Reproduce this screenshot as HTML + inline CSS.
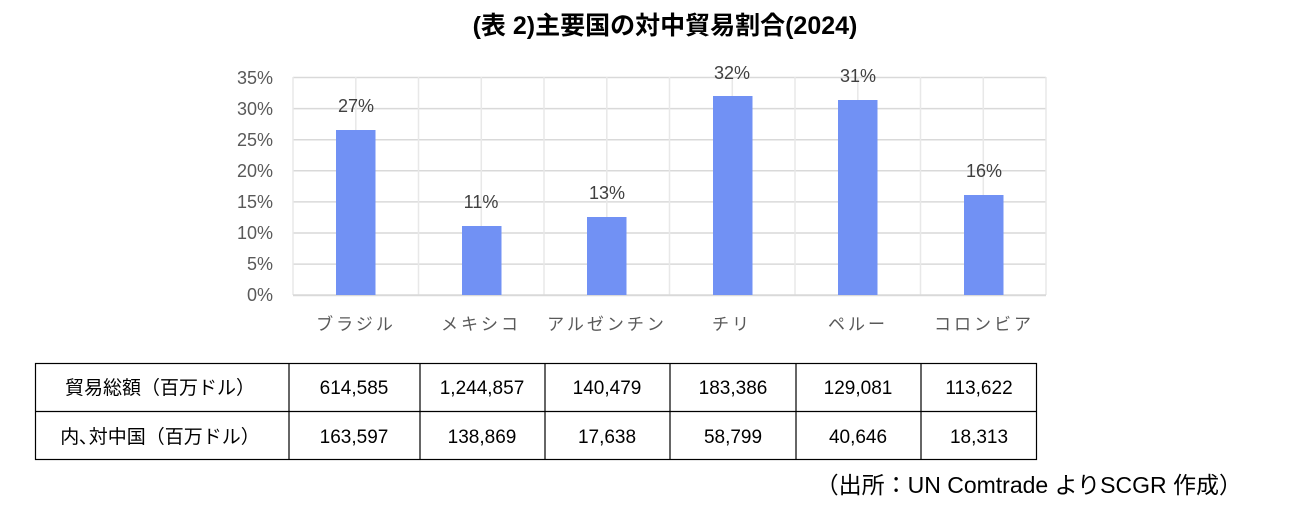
<!DOCTYPE html>
<html><head><meta charset="utf-8"><style>
body{margin:0;width:1295px;height:517px;background:#fff;overflow:hidden;font-family:"Liberation Sans","Noto Sans CJK JP",sans-serif;}
</style></head><body>
<svg width="1295" height="517" xmlns="http://www.w3.org/2000/svg" font-family="Liberation Sans, Noto Sans CJK JP, sans-serif">
<text x="665" y="34" text-anchor="middle" font-size="25" font-weight="bold" fill="#000">(表 2)主要国の対中貿易割合(2024)</text>
<g stroke="#d9d9d9" stroke-width="1.5">
<line x1="293" y1="77.5" x2="1046" y2="77.5"/><line x1="293" y1="108.6" x2="1046" y2="108.6"/><line x1="293" y1="139.7" x2="1046" y2="139.7"/><line x1="293" y1="170.8" x2="1046" y2="170.8"/><line x1="293" y1="201.9" x2="1046" y2="201.9"/><line x1="293" y1="233" x2="1046" y2="233"/><line x1="293" y1="264.1" x2="1046" y2="264.1"/>
</g>
<g stroke="#e8e8e8" stroke-width="1.5">
<line x1="293" y1="77" x2="293" y2="295"/><line x1="355.8" y1="77" x2="355.8" y2="295"/><line x1="418.5" y1="77" x2="418.5" y2="295"/><line x1="481.3" y1="77" x2="481.3" y2="295"/><line x1="544" y1="77" x2="544" y2="295"/><line x1="606.8" y1="77" x2="606.8" y2="295"/><line x1="669.5" y1="77" x2="669.5" y2="295"/><line x1="732.3" y1="77" x2="732.3" y2="295"/><line x1="795" y1="77" x2="795" y2="295"/><line x1="857.8" y1="77" x2="857.8" y2="295"/><line x1="920.5" y1="77" x2="920.5" y2="295"/><line x1="983.3" y1="77" x2="983.3" y2="295"/><line x1="1046" y1="77" x2="1046" y2="295"/>
</g>
<line x1="293" y1="295.2" x2="1046" y2="295.2" stroke="#d9d9d9" stroke-width="2"/>
<g fill="#7191f4">
<rect x="336" y="130" width="39.5" height="165"/>
<rect x="462" y="226" width="39.5" height="69"/>
<rect x="587" y="217" width="39.5" height="78"/>
<rect x="713" y="96" width="39.5" height="199"/>
<rect x="838" y="100" width="39.5" height="195"/>
<rect x="964" y="195" width="39.5" height="100"/>
</g>
<g font-size="18" fill="#404040" text-anchor="middle">
<text x="356" y="112">27%</text><text x="481" y="208">11%</text><text x="607" y="199">13%</text><text x="732" y="79">32%</text><text x="858" y="82">31%</text><text x="984" y="177">16%</text>
</g>
<g font-size="18" fill="#595959" text-anchor="end">
<text x="273" y="84">35%</text><text x="273" y="115">30%</text><text x="273" y="146">25%</text><text x="273" y="177">20%</text><text x="273" y="208">15%</text><text x="273" y="239">10%</text><text x="273" y="270">5%</text><text x="273" y="301">0%</text>
</g>
<g font-size="17" fill="#595959" text-anchor="middle" letter-spacing="3">
<text x="356" y="330">ブラジル</text><text x="481" y="330">メキシコ</text><text x="607" y="330">アルゼンチン</text><text x="732" y="330">チリ</text><text x="858" y="330">ペルー</text><text x="984" y="330">コロンビア</text>
</g>
<g stroke="#000" stroke-width="1.2" fill="none">
<rect x="35.5" y="363.5" width="1001" height="96"/>
<line x1="35" y1="411.5" x2="1037" y2="411.5"/>
<line x1="289" y1="363" x2="289" y2="460"/><line x1="420" y1="363" x2="420" y2="460"/><line x1="545" y1="363" x2="545" y2="460"/><line x1="670" y1="363" x2="670" y2="460"/><line x1="796" y1="363" x2="796" y2="460"/><line x1="921" y1="363" x2="921" y2="460"/>
</g>
<g font-size="19" fill="#000" text-anchor="middle">
<text x="160" y="394">貿易総額（百万ドル）</text>
<text x="160" y="443">内､対中国（百万ドル）</text>
<text x="354" y="394">614,585</text><text x="482" y="394">1,244,857</text><text x="607" y="394">140,479</text><text x="733" y="394">183,386</text><text x="858" y="394">129,081</text><text x="979" y="394">113,622</text>
<text x="354" y="443">163,597</text><text x="482" y="443">138,869</text><text x="607" y="443">17,638</text><text x="733" y="443">58,799</text><text x="858" y="443">40,646</text><text x="979" y="443">18,313</text>
</g>
<text x="1242" y="493" text-anchor="end" font-size="23" fill="#000">（出所：UN  Comtrade よりSCGR 作成）</text>
</svg>
</body></html>
